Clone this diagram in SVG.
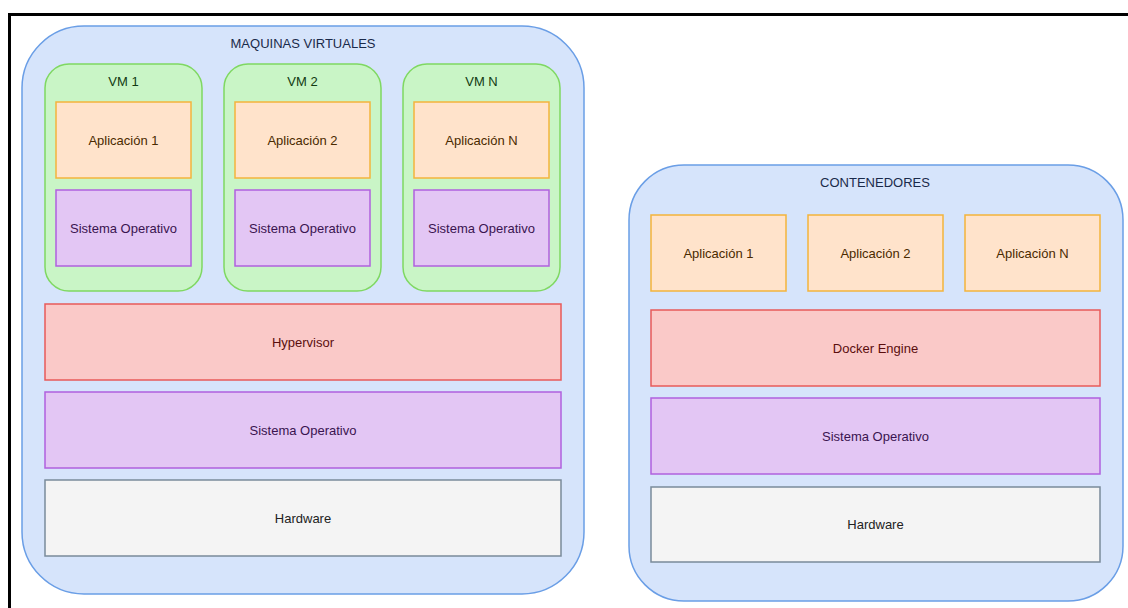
<svg xmlns="http://www.w3.org/2000/svg" width="1128" height="608" viewBox="0 0 1128 608">
  <style>
    text { font-family: "Liberation Sans", Arial, Helvetica, sans-serif; font-size: 13px; text-anchor: middle; }
    .frame { fill: #ffffff; stroke: #000000; stroke-width: 3; }
    .host { fill: #d6e4fb; stroke: #6a9ee6; stroke-width: 1.5; }
    .host-t { fill: #1a2a4a; }
    .vm { fill: #c9f5c6; stroke: #7fd862; stroke-width: 1.5; }
    .vm-t { fill: #123a12; }
    .app { fill: #ffe3cb; stroke: #f3b43c; stroke-width: 1.5; }
    .app-t { fill: #4a2a00; }
    .os { fill: #e3c6f4; stroke: #b060de; stroke-width: 1.5; }
    .os-t { fill: #3a1450; }
    .hyp { fill: #fac9c8; stroke: #e85a5a; stroke-width: 1.5; }
    .hyp-t { fill: #5a0e0e; }
    .hw { fill: #f4f4f4; stroke: #7a8a9a; stroke-width: 1.5; }
    .hw-t { fill: #222222; }
  </style>

  <rect width="1128" height="608" fill="#ffffff"/>
  <!-- page frame -->
  <rect class="frame" x="9.5" y="14.5" width="1130" height="610"/>

  <!-- virtual machines stack -->
  <g id="maquinas-virtuales">
    <rect class="host" x="22" y="26" width="562" height="568" rx="62" ry="62"/>
    <text class="host-t" x="303" y="48">MAQUINAS VIRTUALES</text>
  </g>

  <g id="vm1">
    <rect class="vm" x="45" y="64" width="157" height="227" rx="24" ry="24"/>
    <text class="vm-t" x="123.5" y="86">VM 1</text>
  </g>
  <g id="vm1-app">
    <rect class="app" x="56" y="102" width="135" height="76"/>
    <text class="app-t" x="123.5" y="144.5">Aplicación 1</text>
  </g>
  <g id="vm1-os">
    <rect class="os" x="56" y="190" width="135" height="76"/>
    <text class="os-t" x="123.5" y="232.5">Sistema Operativo</text>
  </g>

  <g id="vm2">
    <rect class="vm" x="224" y="64" width="157" height="227" rx="24" ry="24"/>
    <text class="vm-t" x="302.5" y="86">VM 2</text>
  </g>
  <g id="vm2-app">
    <rect class="app" x="235" y="102" width="135" height="76"/>
    <text class="app-t" x="302.5" y="144.5">Aplicación 2</text>
  </g>
  <g id="vm2-os">
    <rect class="os" x="235" y="190" width="135" height="76"/>
    <text class="os-t" x="302.5" y="232.5">Sistema Operativo</text>
  </g>

  <g id="vmn">
    <rect class="vm" x="403" y="64" width="157" height="227" rx="24" ry="24"/>
    <text class="vm-t" x="481.5" y="86">VM N</text>
  </g>
  <g id="vmn-app">
    <rect class="app" x="414" y="102" width="135" height="76"/>
    <text class="app-t" x="481.5" y="144.5">Aplicación N</text>
  </g>
  <g id="vmn-os">
    <rect class="os" x="414" y="190" width="135" height="76"/>
    <text class="os-t" x="481.5" y="232.5">Sistema Operativo</text>
  </g>

  <g id="hypervisor">
    <rect class="hyp" x="45" y="304" width="516" height="76"/>
    <text class="hyp-t" x="303" y="346.5">Hypervisor</text>
  </g>
  <g id="vm-host-os">
    <rect class="os" x="45" y="392" width="516" height="76"/>
    <text class="os-t" x="303" y="434.5">Sistema Operativo</text>
  </g>
  <g id="vm-hardware">
    <rect class="hw" x="45" y="480" width="516" height="76"/>
    <text class="hw-t" x="303" y="522.5">Hardware</text>
  </g>

  <!-- container stack -->
  <g id="contenedores">
    <rect class="host" x="629" y="165" width="494" height="436" rx="55" ry="55"/>
    <text class="host-t" x="875" y="187">CONTENEDORES</text>
  </g>
  <g id="ct-app1">
    <rect class="app" x="651" y="215" width="135" height="76"/>
    <text class="app-t" x="718.5" y="257.5">Aplicación 1</text>
  </g>
  <g id="ct-app2">
    <rect class="app" x="808" y="215" width="135" height="76"/>
    <text class="app-t" x="875.5" y="257.5">Aplicación 2</text>
  </g>
  <g id="ct-appn">
    <rect class="app" x="965" y="215" width="135" height="76"/>
    <text class="app-t" x="1032.5" y="257.5">Aplicación N</text>
  </g>
  <g id="docker-engine">
    <rect class="hyp" x="651" y="310" width="449" height="76"/>
    <text class="hyp-t" x="875.5" y="352.5">Docker Engine</text>
  </g>
  <g id="ct-host-os">
    <rect class="os" x="651" y="398" width="449" height="76"/>
    <text class="os-t" x="875.5" y="440.5">Sistema Operativo</text>
  </g>
  <g id="ct-hardware">
    <rect class="hw" x="651" y="487" width="449" height="75"/>
    <text class="hw-t" x="875.5" y="529">Hardware</text>
  </g>

  <!-- no connectors in this drawing -->
  <g id="connectors"/>
</svg>
